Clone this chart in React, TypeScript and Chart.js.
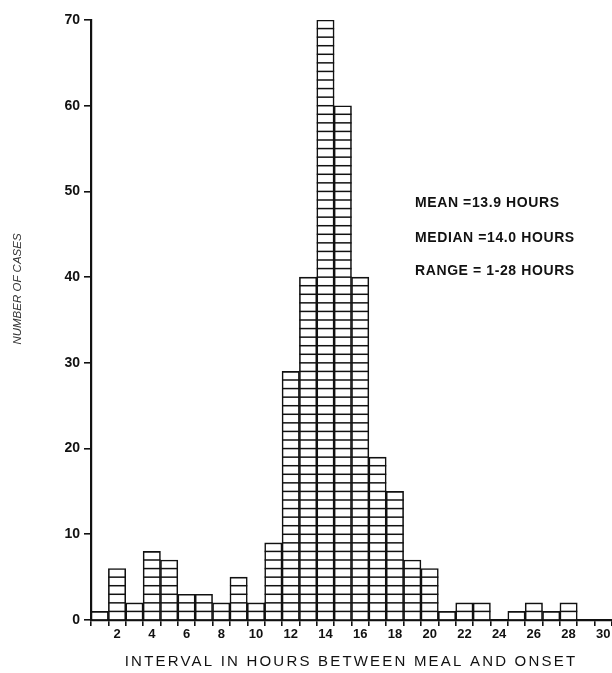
import React, { useEffect, useRef } from 'react';
import { Chart, registerables } from 'chart.js';

Chart.register(...registerables);

const hours = ['1', '2', '3', '4', '5', '6', '7', '8', '9', '10', '11', '12', '13', '14', '15', '16', '17', '18', '19', '20', '21', '22', '23', '24', '25', '26', '27', '28', '29', '30'];
const cases = [1, 6, 2, 8, 7, 3, 3, 2, 5, 2, 9, 29, 40, 70, 60, 40, 19, 15, 7, 6, 1, 2, 2, 0, 1, 2, 1, 2, 0, 0];
const yTicks = [0, 10, 20, 30, 40, 50, 60, 70];
const statsLines = ['MEAN =13.9 HOURS', 'MEDIAN =14.0 HOURS', 'RANGE = 1-28 HOURS'];
const xTitle = 'INTERVAL IN HOURS BETWEEN MEAL AND ONSET';
const yTitle = 'NUMBER OF CASES';

const INK = '#111';

const unitLines = {
  id: 'unitLines',
  afterDatasetsDraw(chart: any) {
    const meta = chart.getDatasetMeta(0);
    const y = chart.scales.y;
    const ctx = chart.ctx;
    ctx.save();
    ctx.strokeStyle = INK;
    ctx.lineWidth = 1.5;
    meta.data.forEach((bar: any, i: number) => {
      const v = cases[i];
      const { x, width } = bar.getProps(['x', 'width'], true);
      for (let k = 1; k < v; k++) {
        const py = y.getPixelForValue(k);
        ctx.beginPath();
        ctx.moveTo(x - width / 2, py);
        ctx.lineTo(x + width / 2, py);
        ctx.stroke();
      }
    });
    ctx.restore();
  },
};

const texts = {
  id: 'texts',
  afterDraw(chart: any) {
    const ctx = chart.ctx;
    ctx.save();
    ctx.fillStyle = INK;
    ctx.font = 'bold 14px "Liberation Sans", Arial, sans-serif';
    ctx.textAlign = 'left';
    ctx.textBaseline = 'middle';
    (ctx as any).letterSpacing = '0.6px';
    const sy = [203, 238, 271];
    statsLines.forEach((s, i) => ctx.fillText(s, 415, sy[i]));
    ctx.font = '15px "Liberation Sans", Arial, sans-serif';
    (ctx as any).letterSpacing = '2.2px';
    ctx.textAlign = 'center';
    ctx.fillText(xTitle, 351, 662);
    (ctx as any).letterSpacing = '0px';
    ctx.fillStyle = '#333';
    ctx.font = 'italic 11.5px "Liberation Sans", Arial, sans-serif';
    ctx.translate(18, 289);
    ctx.rotate(-Math.PI / 2);
    ctx.fillText(yTitle, 0, 0);
    ctx.restore();
  },
};

export default function App() {
  const ref = useRef<HTMLCanvasElement>(null);
  useEffect(() => {
    if (!ref.current) return;
    const chart = new Chart(ref.current, {
      type: 'bar',
      data: {
        labels: hours,
        datasets: [
          {
            data: cases,
            backgroundColor: '#fff',
            borderColor: INK,
            borderWidth: 1.6,
            barPercentage: 1,
            categoryPercentage: 1,
          },
        ],
      },
      options: {
        animation: false,
        responsive: true,
        maintainAspectRatio: false,
        layout: { padding: { left: 0, right: 0, top: 20, bottom: 0 } },
        plugins: { legend: { display: false }, tooltip: { enabled: false } },
        scales: {
          x: {
            offset: true,
            afterFit: (s: any) => {
              s.height = 53;
            },
            grid: {
              offset: true,
              drawOnChartArea: false,
              tickLength: 6,
              color: INK,
              lineWidth: 1.6,
            },
            border: { display: true, color: INK, width: 2.2 },
            ticks: {
              autoSkip: false,
              maxRotation: 0,
              padding: 1,
              color: INK,
              font: { family: '"Liberation Sans", Arial, sans-serif', size: 13, weight: 'bold' },
              callback: function (this: any, v: any, idx: number) {
                const lab = hours[idx];
                return Number(lab) % 2 === 0 ? lab : '';
              },
            },
          },
          y: {
            min: 0,
            max: 70,
            afterFit: (s: any) => {
              s.width = 91;
            },
            afterBuildTicks: (s: any) => {
              s.ticks = yTicks.map((v) => ({ value: v }));
            },
            grid: {
              drawOnChartArea: false,
              tickLength: 7,
              color: INK,
              lineWidth: 1.6,
            },
            border: { display: true, color: INK, width: 2.2 },
            ticks: {
              padding: 4,
              color: INK,
              font: { family: '"Liberation Sans", Arial, sans-serif', size: 14, weight: 'bold' },
              callback: (v: any) => String(v),
            },
          },
        },
      },
      plugins: [unitLines, texts],
    });
    return () => chart.destroy();
  }, []);
  return (
    <div style={{ position: 'fixed', left: 0, top: 0, width: 612, height: 673, background: '#fff' }}>
      <canvas ref={ref} />
    </div>
  );
}
